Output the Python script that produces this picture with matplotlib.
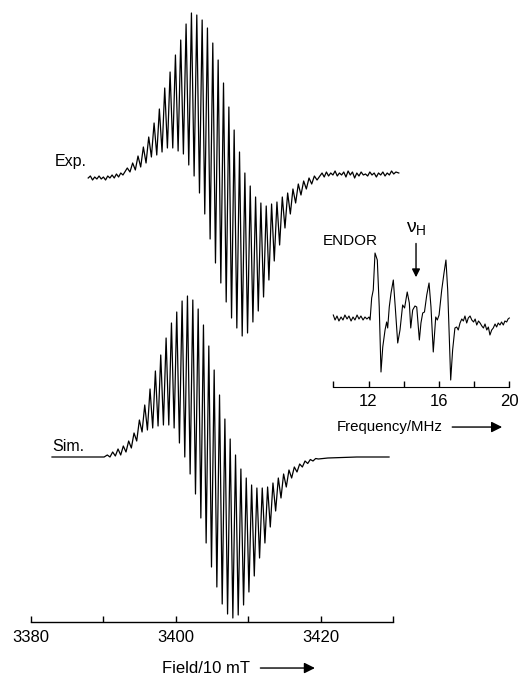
import numpy as np
import matplotlib.pyplot as plt

plt.rcParams['font.family'] = ['Liberation Sans', 'DejaVu Sans']

# EPR spectra: turning points of the traces (field in units of 10 mT, signal in a.u.)
exp_field = [3387.9, 3388.2, 3388.5, 3388.8, 3389.1, 3389.4, 3389.7, 3390.0, 3390.3,
             3390.6, 3390.9, 3391.2, 3391.5, 3391.8, 3392.1, 3392.4, 3392.7,
             3393.30, 3393.67, 3394.04, 3394.41, 3394.78, 3395.15, 3395.52, 3395.89,
             3396.26, 3396.63, 3397.00, 3397.37, 3397.73, 3398.10, 3398.47, 3398.84,
             3399.21, 3399.58, 3399.95, 3400.32, 3400.68, 3401.05, 3401.42, 3401.79,
             3402.16, 3402.53, 3402.90, 3403.27, 3403.64, 3404.00, 3404.37, 3404.74,
             3405.11, 3405.48, 3405.85, 3406.22, 3406.59, 3406.96, 3407.33, 3407.70,
             3408.06, 3408.43, 3408.80, 3409.17, 3409.54, 3409.91, 3410.28, 3410.65,
             3411.02, 3411.39, 3411.75, 3412.12, 3412.49, 3412.86, 3413.23, 3413.60,
             3413.97, 3414.34, 3414.71, 3415.08, 3415.45, 3415.82, 3416.18, 3416.55,
             3416.92, 3417.29, 3417.66, 3418.03, 3418.40, 3418.77, 3419.14, 3419.51,
             3419.9, 3420.2, 3420.5, 3420.8, 3421.1, 3421.4, 3421.7, 3422.0, 3422.3,
             3422.6, 3422.9, 3423.2, 3423.5, 3423.8, 3424.1, 3424.4, 3424.7, 3425.0,
             3425.3, 3425.6, 3425.9, 3426.2, 3426.5, 3426.8, 3427.1, 3427.4, 3427.7,
             3428.0, 3428.3, 3428.6, 3428.9, 3429.2, 3429.5, 3429.8, 3430.1, 3430.4,
             3430.8]
exp_signal = [-1, 1, -3, 0, -2, 1, -2, 0, -3, 1, -1, 2, -1, 3, 0, 4, 2,
              9, 5, 14, 7, 21, 10, 30, 14, 40, 20, 54, 22, 68, 25, 89, 29,
              105, 29, 122, 26, 137, 23, 153, 12, 164, 1, 162, -16, 157, -37,
              149, -62, 134, -86, 117, -106, 94, -125, 70, -141, 47, -151,
              25, -159, 4, -156, -9, -145, -20, -134, -26, -120, -29, -103,
              -27, -84, -25, -68, -20, -51, -16, -37, -12, -26, -7, -18,
              -4, -12, -1, -7, 1, -3,
              1, 4, 0, 5, 1, 4, 2, 6, 1, 4, 2, 5, 0, 6, 2, 5, -1, 4, 1, 5,
              2, 3, 1, 5, 2, 4, 0, 4, 2, 5, 1, 4, 2, 6, 3, 5, 4]

sim_field = [3382.9, 3390.1,
             3390.54, 3390.91, 3391.28, 3391.65, 3392.02, 3392.39, 3392.75, 3393.12,
             3393.49, 3393.86, 3394.23, 3394.60, 3394.97, 3395.34, 3395.71, 3396.08,
             3396.44, 3396.81, 3397.18, 3397.55, 3397.92, 3398.29, 3398.66, 3399.03,
             3399.40, 3399.77, 3400.13, 3400.50, 3400.87, 3401.24, 3401.61, 3401.98,
             3402.35, 3402.72, 3403.09, 3403.46, 3403.82, 3404.19, 3404.56, 3404.93,
             3405.30, 3405.67, 3406.04, 3406.41, 3406.78, 3407.15, 3407.51, 3407.88,
             3408.25, 3408.62, 3408.99, 3409.36, 3409.73, 3410.10, 3410.47, 3410.84,
             3411.20, 3411.57, 3411.94, 3412.31, 3412.68, 3413.05, 3413.42, 3413.79,
             3414.16, 3414.53, 3414.89, 3415.26, 3415.63, 3416.00, 3416.37, 3416.74,
             3417.11, 3417.48, 3417.85, 3418.22, 3418.58, 3418.95, 3419.32, 3419.69,
             3421.0, 3423.0, 3425.0, 3429.45]
sim_signal = [0, 0,
              2, 0, 5, 1, 8, 2, 11, 5, 16, 9, 24, 16, 37, 25, 52, 27, 68, 29,
              86, 31, 102, 32, 119, 32, 134, 29, 145, 14, 156, 0, 161, -17,
              157, -37, 148, -61, 132, -86, 111, -110, 87, -130, 62, -147,
              38, -157, 18, -161, 2, -158, -12, -148, -21, -135, -28, -119,
              -31, -101, -31, -86, -30, -70, -26, -54, -21, -41, -17, -30,
              -13, -21, -10, -15, -7, -10, -4, -6.5, -2.5, -4, -1.5, -2,
              -1, -0.5, 0, 0]

field_ticks = [3380, 3390, 3400, 3410, 3420, 3430]
field_labels = ['3380', '', '3400', '', '3420', '']

# ENDOR inset
endor_freq = [10.00, 10.10, 10.21, 10.32, 10.44, 10.55, 10.66, 10.78, 10.89, 11.01,
              11.12, 11.23, 11.35, 11.46, 11.57, 11.69, 11.80, 11.91, 12.03,
              12.09, 12.18, 12.27, 12.37, 12.50, 12.61, 12.71, 12.81, 12.94, 13.03,
              13.09, 13.18, 13.28, 13.41, 13.52, 13.66, 13.79, 13.94, 14.05, 14.20,
              14.32, 14.40, 14.51, 14.64, 14.74, 14.89, 14.98, 15.08, 15.18, 15.31,
              15.44, 15.55, 15.68, 15.82, 15.91, 16.01, 16.16, 16.29, 16.40, 16.50,
              16.59, 16.67, 16.78, 16.91, 17.01, 17.10,
              17.20, 17.30, 17.39, 17.48, 17.58, 17.67, 17.77, 17.87, 17.97, 18.06,
              18.15, 18.25, 18.34, 18.44, 18.53, 18.62, 18.72, 18.81, 18.90, 19.00,
              19.09, 19.19, 19.28, 19.37, 19.47, 19.56, 19.66, 19.75, 19.85, 19.93,
              20.00]
endor_signal = [3, -2, 2, -3, 1, -2, 3, -1, 2, -3, 1, -2, 3, -1, 2, -2, 1, -1, 1,
                -2, 20, 28, 65, 58, 11, -54, -29, -12, -4, -10, 11, 25, 38, 11,
                -25, -12, 13, 10, 26, 15, -10, 8, 12, 11, -22, -5, 5, 6, 23, 35,
                11, -34, 1, -2, 3, 28, 45, 58, 28, -19, -62, -32, -10, -9, -12,
                -5, -1, -3, 2, -5, 0, 2, -2, -4, -1, -7, -3, -5, -8, -10, -6,
                -12, -9, -17, -12, -10, -6, -9, -5, -7, -4, -7, -3, -4, -1, 0]

freq_ticks = [10, 12, 14, 16, 18, 20]
freq_labels = ['', '12', '', '16', '', '20']
nu_h = 14.7

exp_offset = 445
sim_offset = 165
endor_offset = 68.7

fig = plt.figure(figsize=(5.19, 6.75), dpi=100)

ax = fig.add_axes([31 / 519, 53 / 675, 362 / 519, 622 / 675])
ax.plot(exp_field, np.array(exp_signal) + exp_offset, color='black', lw=0.9, clip_on=False)
ax.plot(sim_field, np.array(sim_signal) + sim_offset, color='black', lw=0.9, clip_on=False)
ax.set_xlim(3380, 3430)
ax.set_ylim(0, 622)
ax.patch.set_visible(False)
for side in ['top', 'left', 'right']:
    ax.spines[side].set_visible(False)
ax.spines['bottom'].set_linewidth(1.0)
ax.set_yticks([])
ax.set_xticks(field_ticks)
ax.set_xticklabels(field_labels, fontsize=12)
ax.tick_params(axis='x', direction='in', length=4, width=1, pad=6)

ax.text(3387.7, exp_offset + 11, 'Exp.', ha='right', va='baseline', fontsize=11.5)
ax.text(3382.9, sim_offset + 6, 'Sim.', ha='left', va='baseline', fontsize=11.5)

trans = ax.get_xaxis_transform()
ax.text(3404.2, -0.074, 'Field/10 mT', transform=trans, ha='center', va='center', fontsize=12)
ax.annotate('', xy=(3419.6, -0.074), xytext=(3411.3, -0.074), xycoords=trans,
            arrowprops=dict(arrowstyle='-|>', color='black', lw=1, mutation_scale=16),
            annotation_clip=False)

# inset with the ENDOR spectrum
ax2 = fig.add_axes([333.3 / 519, (675 - 386.7) / 675, 176 / 519, 146.7 / 675])
ax2.plot(endor_freq, np.array(endor_signal) + endor_offset, color='black', lw=0.8, clip_on=False)
ax2.set_xlim(10, 20)
ax2.set_ylim(0, 146.7)
ax2.patch.set_visible(False)
for side in ['top', 'left', 'right']:
    ax2.spines[side].set_visible(False)
ax2.set_yticks([])
ax2.set_xticks(freq_ticks)
ax2.set_xticklabels(freq_labels, fontsize=12)
ax2.tick_params(axis='x', direction='in', length=4, width=1, pad=5)

ax2.text(9.41, 141.7, 'ENDOR', ha='left', va='baseline', fontsize=11)
ax2.text(nu_h, 158, r'$\mathregular{\nu_H}$', ha='center', va='center', fontsize=14,
         clip_on=False)
ax2.annotate('', xy=(nu_h, 106.7), xytext=(nu_h, 146),
             arrowprops=dict(arrowstyle='-|>', color='black', lw=1, mutation_scale=12),
             annotation_clip=False)

trans2 = ax2.get_xaxis_transform()
ax2.text(10.2, -0.275, 'Frequency/MHz', transform=trans2, ha='left', va='center', fontsize=10.8)
ax2.annotate('', xy=(19.75, -0.275), xytext=(16.6, -0.275), xycoords=trans2,
             arrowprops=dict(arrowstyle='-|>', color='black', lw=1, mutation_scale=16),
             annotation_clip=False)

fig.savefig('out.png', dpi=100)
